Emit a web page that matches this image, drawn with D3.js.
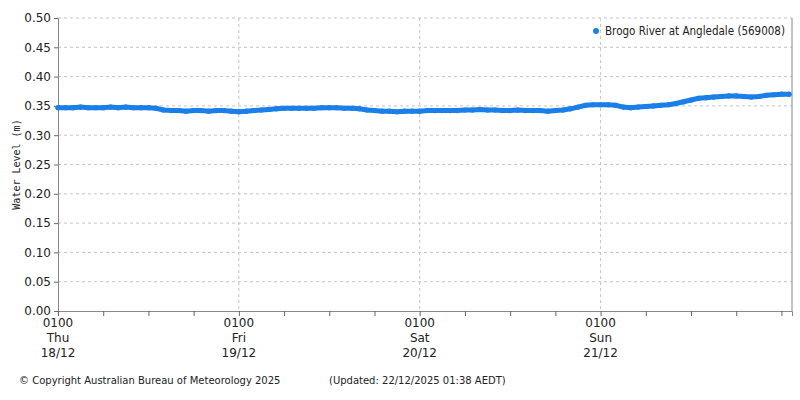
<!DOCTYPE html>
<html><head><meta charset="utf-8">
<script src="https://cdn.jsdelivr.net/npm/d3@7"></script>
<style>body{margin:0;background:#fff}text{font-family:"DejaVu Sans",sans-serif}</style>
</head><body><div id="chart"></div>
<script>
// hourly readings from 0100 Thu 18/12
var hours = d3.range(0, 98);
var levels = [
 0.347,0.347,0.347,0.348,0.347,0.347,0.347,0.348,0.347,0.348,0.347,0.347,0.347,0.346,
 0.343,0.342,0.342,0.341,0.342,0.342,0.341,0.342,0.342,0.341,0.340,0.341,0.342,0.343,
 0.344,0.345,0.346,0.346,0.346,0.346,0.346,0.347,0.347,0.347,0.346,0.346,0.345,0.343,
 0.342,0.341,0.341,0.340,0.341,0.341,0.341,0.342,0.342,0.342,0.342,0.342,0.343,0.343,
 0.344,0.343,0.343,0.342,0.342,0.343,0.342,0.342,0.342,0.341,0.342,0.343,0.345,0.348,
 0.351,0.352,0.352,0.352,0.351,0.348,0.347,0.348,0.349,0.350,0.351,0.352,0.354,0.357,
 0.360,0.363,0.364,0.365,0.366,0.367,0.367,0.366,0.365,0.366,0.368,0.369,0.370,0.370];
var yTicks = [0,0.05,0.1,0.15,0.2,0.25,0.3,0.35,0.4,0.45,0.5];
var dayLabels = [["0100","Thu","18/12"],["0100","Fri","19/12"],["0100","Sat","20/12"],["0100","Sun","21/12"]];
var seriesName = "Brogo River at Angledale (569008)";

var width = 800, height = 400;
var m = {left: 58, right: 8, top: 18, bottom: 89};
var svg = d3.select('#chart').append('svg').attr('width', width).attr('height', height);
var x = d3.scaleLinear().domain([0, 97.4]).range([m.left, width - m.right]);
var y = d3.scaleLinear().domain([0, 0.5]).range([height - m.bottom, m.top]);
var col = '#1a7fe8';

// grid
svg.append('g').selectAll('line').data(yTicks.slice(1)).enter().append('line')
   .attr('x1', m.left).attr('x2', width - m.right)
   .attr('y1', function(d){ return y(d); }).attr('y2', function(d){ return y(d); })
   .attr('stroke', '#c4c4c4').attr('stroke-dasharray', '3,3');
svg.append('g').selectAll('line').data([24,48,72]).enter().append('line')
   .attr('x1', function(d){ return x(d); }).attr('x2', function(d){ return x(d); })
   .attr('y1', m.top).attr('y2', y(0))
   .attr('stroke', '#c4c4c4').attr('stroke-dasharray', '3,3');

// axes
var yAxis = svg.append('g').attr('transform', 'translate(' + m.left + ',0)')
   .call(d3.axisLeft(y).tickValues(yTicks).tickFormat(d3.format('.2f')).tickSize(4));
var xAxis = svg.append('g').attr('transform', 'translate(0,' + y(0) + ')')
   .call(d3.axisBottom(x).tickValues(d3.range(0, 97, 6)).tickFormat('').tickSize(5));
[yAxis, xAxis].forEach(function(a){
  a.select('.domain').attr('stroke', '#888');
  a.selectAll('.tick line').attr('stroke', '#666');
  a.selectAll('text').attr('font-size', 12).attr('fill', '#222');
});
svg.append('line').attr('x1', width - m.right).attr('x2', width - m.right)
   .attr('y1', m.top).attr('y2', y(0)).attr('stroke', '#888');

// day labels
dayLabels.forEach(function(lab, i){
  lab.forEach(function(t, j){
    svg.append('text').attr('x', x(i * 24)).attr('y', y(0) + 16 + j * 15)
       .attr('text-anchor', 'middle').attr('font-size', 12).attr('fill', '#222').text(t);
  });
});

svg.append('text').attr('transform', 'translate(20,' + ((m.top + y(0)) / 2) + ') rotate(-90)')
   .attr('text-anchor', 'middle').attr('font-size', 10).style('font-family', '"DejaVu Sans Mono",monospace')
   .attr('fill', '#222').text('Water Level (m)');

// series
var line = d3.line().x(function(d, i){ return x(hours[i]); }).y(function(d){ return y(d); });
svg.append('path').datum(levels).attr('d', line).attr('fill', 'none')
   .attr('stroke', col).attr('stroke-width', 5).attr('stroke-linecap', 'round');
svg.append('g').selectAll('circle').data(levels).enter().append('circle')
   .attr('cx', function(d, i){ return x(hours[i]); }).attr('cy', function(d){ return y(d); })
   .attr('r', 2.6).attr('fill', col);

// legend
svg.append('circle').attr('cx', 596).attr('cy', 31).attr('r', 3).attr('fill', col);
svg.append('text').attr('x', 605).attr('y', 35).attr('font-size', 12).attr('fill', '#222')
   .attr('textLength', 180).attr('lengthAdjust', 'spacingAndGlyphs').text(seriesName);

// footer
svg.append('text').attr('x', 19).attr('y', 384).attr('font-size', 10).attr('fill', '#222')
   .text('\u00a9 Copyright Australian Bureau of Meteorology 2025');
svg.append('text').attr('x', 329).attr('y', 384).attr('font-size', 10).attr('fill', '#222')
   .text('(Updated: 22/12/2025 01:38 AEDT)');
</script></body></html>
